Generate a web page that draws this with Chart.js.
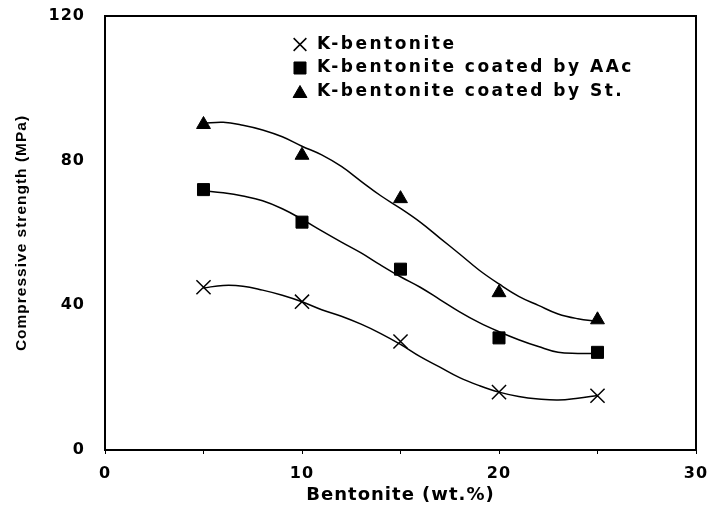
<!DOCTYPE html>
<html>
<head>
<meta charset="utf-8">
<title>Compressive strength vs bentonite content</title>
<script src="https://cdn.jsdelivr.net/npm/chart.js@4.4.1/dist/chart.umd.min.js"></script>
<style>
  html, body { margin: 0; padding: 0; background: #fff; }
  #wrap { width: 709px; height: 506px; }
</style>
</head>
<body>
<div id="wrap"><canvas id="graficoResistencia" width="709" height="506"></canvas></div>
<script>
// Teor de bentonita (wt.%) e resistência medida (MPa)
const bentoniteWt = [5, 10, 15, 20, 25];
const kBentonite = [45, 41, 30, 16, 15];
const coatedAAc = [72, 63, 50, 31, 27];
const coatedSt = [90, 81.5, 69.5, 43.5, 36];

// Curvas de tendência lidas ponto a ponto
const fitX = [5, 6, 7, 8, 9, 10, 11, 12, 13, 14, 15, 16, 17, 18, 19, 20, 21, 22, 23, 24, 25];
const fitK = [44.8, 45.5, 45.3, 44.2, 42.8, 41.0, 38.8, 37.0, 34.8, 32.2, 29.2, 25.8, 22.9, 20.0, 17.8, 16.0, 14.8, 14.1, 13.8, 14.3, 15.1];
const fitAAc = [71.7, 71.1, 70.2, 68.9, 66.7, 63.8, 60.6, 57.5, 54.5, 51.1, 47.9, 45.0, 41.6, 38.2, 35.2, 32.7, 30.5, 28.6, 27.0, 26.7, 26.7];
const fitSt = [90.3, 90.6, 89.8, 88.5, 86.6, 84.0, 81.6, 78.4, 74.3, 70.3, 66.8, 63.0, 58.6, 54.2, 49.7, 45.9, 42.5, 40.0, 37.6, 36.3, 35.6];

const xTicks = [0, 10, 20, 30];
const yTicks = [0, 40, 80, 120];

const nomes = ['K-bentonite', 'K-bentonite coated by AAc', 'K-bentonite coated by St.'];

function pontos(xs, ys) {
    return xs.map((x, i) => ({ x: x, y: ys[i] }));
}

function curva(ys) {
    return {
        type: 'line',
        data: pontos(fitX, ys),
        borderColor: '#000',
        borderWidth: 1.5,
        pointRadius: 0,
        tension: 0.4,
        fill: false,
        showLine: true,
        order: 2
    };
}

function marcador(label, ys, estilo, raio) {
    return {
        label: label,
        data: pontos(bentoniteWt, ys),
        pointStyle: estilo,
        pointRadius: raio,
        pointBorderWidth: estilo === 'crossRot' ? 1.5 : 1,
        backgroundColor: '#000',
        borderColor: '#000',
        showLine: false,
        legenda: true,
        order: 1
    };
}

// espaçamento de letras e moldura do gráfico
const estiloTexto = {
    id: 'estiloTexto',
    beforeDraw(chart) {
        chart.ctx.letterSpacing = '1px';
    },
    afterDraw(chart) {
        const { ctx, chartArea } = chart;
        ctx.save();
        ctx.strokeStyle = '#000';
        ctx.lineWidth = 2;
        ctx.strokeRect(chartArea.left, chartArea.top, chartArea.right - chartArea.left, chartArea.bottom - chartArea.top);
        ctx.restore();
    }
};

// legenda dentro da área do gráfico
const legendaInterna = {
    id: 'legendaInterna',
    afterDraw(chart) {
        const ctx = chart.ctx;
        const linhas = [44.5, 68, 91.5];
        let k = 0;
        ctx.save();
        chart.data.datasets.forEach((ds) => {
            if (!ds.legenda) return;
            const y = linhas[k++];
            ctx.fillStyle = '#000';
            ctx.strokeStyle = '#000';
            ctx.lineWidth = ds.pointBorderWidth;
            const cy = ds.pointStyle === 'triangle' ? y + 2 : y;
            Chart.helpers.drawPoint(ctx, {
                pointStyle: ds.pointStyle,
                radius: ds.pointStyle === 'crossRot' ? 9 : ds.pointRadius,
                rotation: 0,
                borderWidth: ds.pointBorderWidth
            }, 300, cy);
            ctx.letterSpacing = '2.5px';
            ctx.font = 'bold 17px "DejaVu Sans"';
            ctx.textAlign = 'left';
            ctx.textBaseline = 'middle';
            ctx.fillText(ds.label, 317, y);
        });
        ctx.restore();
    }
};

const ctxResistencia = document.getElementById('graficoResistencia').getContext('2d');
const graficoResistencia = new Chart(ctxResistencia, {
    type: 'scatter',
    data: {
        datasets: [
            curva(fitK),
            curva(fitAAc),
            curva(fitSt),
            marcador(nomes[0], kBentonite, 'crossRot', 10),
            marcador(nomes[1], coatedAAc, 'rect', 8.5),
            marcador(nomes[2], coatedSt, 'triangle', 8)
        ]
    },
    options: {
        responsive: false,
        animation: false,
        devicePixelRatio: 1,
        layout: {
            padding: { top: 16, right: 13, left: 0, bottom: 0 }
        },
        scales: {
            x: {
                type: 'linear',
                min: 0,
                max: 30,
                afterFit: (scale) => {
                    scale.height = 56;
                    scale.paddingLeft = 0;
                    scale.paddingRight = 0;
                },
                ticks: {
                    stepSize: 5,
                    padding: 10,
                    color: '#000',
                    font: { family: 'DejaVu Sans', weight: 'bold', size: 16 },
                    callback: (v) => xTicks.includes(v) ? String(v) : ''
                },
                grid: {
                    display: true,
                    drawOnChartArea: false,
                    drawTicks: true,
                    tickLength: 4,
                    color: '#000',
                    lineWidth: 1
                },
                border: { display: true, color: '#000', width: 2 },
                title: {
                    display: true,
                    text: 'Bentonite (wt.%)',
                    color: '#000',
                    font: { family: 'DejaVu Sans', weight: 'bold', size: 18 },
                    padding: { top: 0, bottom: 0 }
                }
            },
            y: {
                type: 'linear',
                min: 0,
                max: 120,
                afterFit: (scale) => {
                    scale.width = 105;
                    scale.paddingTop = 0;
                    scale.paddingBottom = 0;
                },
                ticks: {
                    stepSize: 40,
                    padding: 20,
                    color: '#000',
                    font: { family: 'DejaVu Sans', weight: 'bold', size: 16 },
                    callback: (v) => yTicks.includes(v) ? String(v) : ''
                },
                grid: { display: false, drawTicks: false },
                border: { display: true, color: '#000', width: 2 },
                title: {
                    display: true,
                    text: 'Compressive strength (MPa)',
                    color: '#000',
                    font: { family: 'Liberation Sans', weight: 'bold', size: 15.5 },
                    padding: { top: 12, bottom: 0 }
                }
            }
        },
        plugins: {
            legend: { display: false },
            tooltip: { enabled: false }
        }
    },
    plugins: [estiloTexto, legendaInterna]
});
</script>
</body>
</html>
